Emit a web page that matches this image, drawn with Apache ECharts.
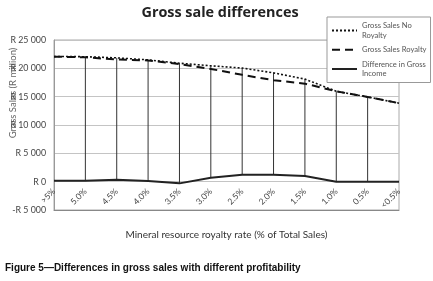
<!DOCTYPE html>
<html><head><meta charset="utf-8">
<script src="https://cdn.jsdelivr.net/npm/echarts@6/dist/echarts.min.js"></script>
<style>html,body{margin:0;padding:0;background:#fff}#c{width:433px;height:281px}</style>
</head><body><div id="c"></div>
<script>
const categories = ['>5%','5.0%','4.5%','4.0%','3.5%','3.0%','2.5%','2.0%','1.5%','1.0%','0.5%','<0.5%'];
const noRoyalty = [22100, 22050, 21850, 21500, 20900, 20450, 20050, 19200, 18100, 15950, 14950, 13850];
const royalty   = [22050, 21950, 21550, 21400, 20750, 19900, 18850, 17900, 17300, 15950, 14950, 13850];
const diffIncome = [150, 150, 350, 120, -300, 700, 1200, 1200, 1000, 0, 0, 0];
const yTicks = {min: -5000, max: 25000, interval: 5000};
const names = ['Gross Sales No\nRoyalty', 'Gross Sales Royalty', 'Difference in Gross\nIncome'];

function fmt(v){
  const a = Math.abs(v).toString().replace(/\B(?=(\d{3})+(?!\d))/g, ' ');
  return (v < 0 ? '-R ' : 'R ') + a;
}
const dropData = categories.map((c,i)=>[i, Math.max(noRoyalty[i], royalty[i]), diffIncome[i]]).slice(1, categories.length-1);

const chart = echarts.init(document.getElementById('c'));
chart.setOption({
  animation: false,
  backgroundColor: '#fff',
  title: [
    {text: 'Gross sale differences', left: 220, top: 6, textAlign: 'center', padding: 0,
     textStyle: {fontFamily: 'Open Sans', fontWeight: 'bold', fontSize: 14.4, color: '#222'}},
    {text: 'Figure 5\u2014Differences in gross sales with different profitability', left: 5, top: 263, padding: 0,
     textStyle: {fontFamily: 'Liberation Sans', fontWeight: 'bold', fontSize: 10, color: '#111'}}
  ],
  legend: {
    data: names, orient: 'vertical', left: 327, top: 17,
    padding: [4, 4, 4, 4], itemWidth: 25, itemHeight: 8, itemGap: 5,
    borderColor: '#999', borderWidth: 1, backgroundColor: '#fff',
    itemStyle: {opacity: 0},
    textStyle: {fontFamily: 'Lato', fontSize: 7.6, color: '#555', lineHeight: 9.5}
  },
  grid: {left: 54, right: 34, top: 40, bottom: 71, show: true, borderColor: '#aaa', borderWidth: 1,
         containLabel: false, outerBoundsMode: 'none'},
  xAxis: {
    type: 'category', data: categories, boundaryGap: false,
    axisLine: {onZero: false, lineStyle: {color: '#888'}},
    axisTick: {show: false},
    axisLabel: {rotate: 45, fontFamily: 'Lato', fontSize: 8.5, color: '#444', margin: -20, interval: 0},
    name: 'Mineral resource royalty rate (% of Total Sales)', nameLocation: 'middle', nameGap: 20,
    nameMoveOverlap: false,
    nameTextStyle: {fontFamily: 'Lato', fontSize: 10, color: '#333'},
    splitLine: {show: false}
  },
  yAxis: {
    type: 'value', min: yTicks.min, max: yTicks.max, interval: yTicks.interval,
    axisLine: {show: true, lineStyle: {color: '#999'}},
    axisTick: {show: false},
    axisLabel: {formatter: fmt, fontFamily: 'Lato', fontSize: 8.8, color: '#444', margin: 8},
    splitLine: {lineStyle: {color: '#c4c4c4'}},
    name: 'Gross Sales (R million)', nameLocation: 'middle', nameGap: 36, nameMoveOverlap: false,
    nameTextStyle: {fontFamily: 'Lato', fontSize: 9.5, color: '#666', padding: [0, 0, 0, 64]}
  },
  series: [
    {type: 'custom', name: 'drop', silent: true, z: 1,
     renderItem: function(params, api){
       const t = api.coord([api.value(0), api.value(1)]);
       const b = api.coord([api.value(0), api.value(2)]);
       return {type: 'line', shape: {x1: t[0], y1: t[1], x2: b[0], y2: b[1]}, style: {stroke: '#333', lineWidth: 1}};
     },
     data: dropData},
    {type: 'line', name: names[0], data: noRoyalty, symbol: 'none', z: 3,
     lineStyle: {color: '#111', width: 1.6, type: [2, 2]}, itemStyle: {color: '#111'}},
    {type: 'line', name: names[1], data: royalty, symbol: 'none', z: 3,
     lineStyle: {color: '#111', width: 2, type: [8, 5]}, itemStyle: {color: '#111'}},
    {type: 'line', name: names[2], data: diffIncome, symbol: 'none', z: 3,
     lineStyle: {color: '#222', width: 2}, itemStyle: {color: '#222'}}
  ]
});
</script></body></html>
